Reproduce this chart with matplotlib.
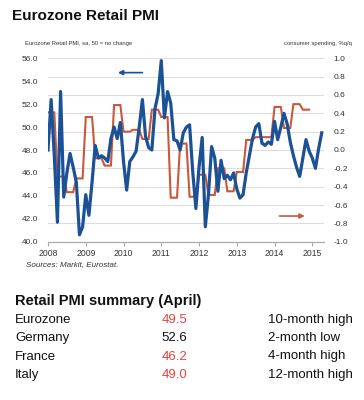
import numpy as np
import matplotlib
matplotlib.use("Agg")
import matplotlib.pyplot as plt

plt.rcParams['font.family'] = ['Liberation Sans', 'DejaVu Sans']

# monthly retail PMI, Jan 2008 .. Apr 2015
pmi = [48.0, 52.4, 47.5, 41.7, 53.1, 43.9, 46.0, 47.7, 46.5, 45.2, 40.6, 41.3,
       44.1, 42.3, 45.2, 48.4, 47.3, 47.5, 47.3, 47.0, 49.0, 50.0, 49.0, 50.4,
       47.0, 44.5, 47.0, 47.4, 47.9, 50.0, 52.4, 49.2, 48.2, 48.0, 51.6, 52.9,
       55.8, 50.8, 53.1, 52.1, 48.9, 48.8, 48.0, 49.5, 50.0, 50.2, 46.1, 42.9,
       46.5, 49.1, 41.3, 44.1, 48.3, 47.3, 44.4, 47.1, 45.5, 45.8, 45.4, 46.0,
       44.6, 43.8, 44.1, 46.0, 47.5, 49.0, 50.0, 50.3, 48.6, 48.4, 48.7, 48.5,
       50.5, 48.9, 50.0, 51.2, 50.3, 48.7, 47.5, 46.5, 45.7, 47.3, 48.9, 47.9,
       47.3, 46.4, 48.1, 49.5]

# consumer spending % q/q, Q1 2008 .. Q4 2014
spend_q = [0.41, -0.29, -0.46, -0.31, 0.36, -0.09, -0.17, 0.49,
           0.20, 0.22, 0.12, 0.44, 0.36, -0.52, 0.07, -0.51,
           -0.27, -0.49, -0.20, -0.45, -0.24, 0.11, 0.14, 0.14,
           0.47, 0.24, 0.50, 0.44]

years = [2008, 2009, 2010, 2011, 2012, 2013, 2014, 2015]

summary_names = ["Eurozone", "Germany", "France", "Italy"]
summary_vals = ["49.5", "52.6", "46.2", "49.0"]
summary_notes = ["10-month high", "2-month low", "4-month high", "12-month high"]
summary_up = [True, False, True, True]

blue = "#1b5196"
red = "#c9583c"
txt = "#333333"

t_pmi = 2008 + np.arange(len(pmi)) / 12.0
spend_m = np.repeat(spend_q, 3)
t_spend = 2008 + np.arange(len(spend_m)) / 12.0

fig = plt.figure(figsize=(3.64, 4.0), dpi=100)
ax = fig.add_axes([48/364, 1-241.7/400, 276/364, 183.4/400])
ax2 = ax.twinx()

ax2.plot(t_spend, spend_m, color=red, lw=1.5, solid_joinstyle='miter')
ax.plot(t_pmi, pmi, color=blue, lw=2.3)

ax.set_zorder(ax2.get_zorder() + 1)
ax.patch.set_visible(False)

ax.set_xlim(2008, 2015.31)
ax.set_ylim(40, 56)
ax2.set_ylim(-1, 1)
ax.set_yticks(np.arange(40, 57, 2))
ax.set_yticklabels(["%.1f" % v for v in np.arange(40, 57, 2)])
ax2.set_yticks(np.arange(-1, 1.01, 0.2))
ax2.set_yticklabels(["%.1f" % (v + 0.0) for v in np.round(np.arange(-1, 1.01, 0.2), 1)])
ax.set_xticks(years)
ax.set_xticklabels([str(y) for y in years])

ax2.grid(axis='y', color='#dddddd', lw=0.8)
ax2.set_axisbelow(True)
for a in (ax, ax2):
    for s in ("top", "left", "right"):
        a.spines[s].set_visible(False)
    a.spines["bottom"].set_color("#aaaaaa")
    a.spines["bottom"].set_linewidth(0.8)
ax.tick_params(axis='y', length=0, labelsize=6, labelcolor=txt, pad=7)
ax2.tick_params(axis='y', length=0, labelsize=6, labelcolor=txt, pad=7)
ax.tick_params(axis='x', length=3, width=0.8, color="#aaaaaa", labelsize=6.2,
               labelcolor=txt, pad=2)
ax2.tick_params(axis='x', length=0)

# direction arrows
ax.annotate("", xy=(2009.85, 54.75), xytext=(2010.5, 54.75),
            arrowprops=dict(arrowstyle="-|>", color=blue, lw=1.2,
                            mutation_scale=7, shrinkA=0, shrinkB=0))
ax2.annotate("", xy=(2014.8, -0.72), xytext=(2014.13, -0.72),
             arrowprops=dict(arrowstyle="-|>", color=red, lw=1.2,
                             mutation_scale=7, shrinkA=0, shrinkB=0))

fig.text(12/364, 1-16.5/400, "Eurozone Retail PMI", fontsize=11,
         fontweight='bold', va='center', color='#111111')
fig.text(25/364, 1-43/400, "Eurozone Retail PMI, sa, 50 = no change",
         fontsize=4.2, va='center', color=txt)
fig.text(352/364, 1-43/400, "consumer spending, %q/q",
         fontsize=4.2, va='center', ha='right', color=txt)
fig.text(26/364, 1-264.5/400, "Sources: Markit, Eurostat.", fontsize=5.8,
         style='italic', va='center', color=txt)

fig.text(15/364, 1-301/400, "Retail PMI summary (April)", fontsize=10.5,
         fontweight='bold', va='center', color='#111111')
row_y = [320, 338.3, 356.5, 375]
for yy, name, val, note, up in zip(row_y, summary_names, summary_vals,
                                    summary_notes, summary_up):
    fy = 1 - yy/400
    fig.text(15/364, fy, name, fontsize=9.5, va='center', color='#111111')
    fig.text(161.5/364, fy, val, fontsize=9.5, va='center',
             color='#e8413c' if up else '#111111')
    fig.text(268/364, fy, note, fontsize=9.5, va='center', color='#111111')

fig.savefig("out.png", dpi=100)
